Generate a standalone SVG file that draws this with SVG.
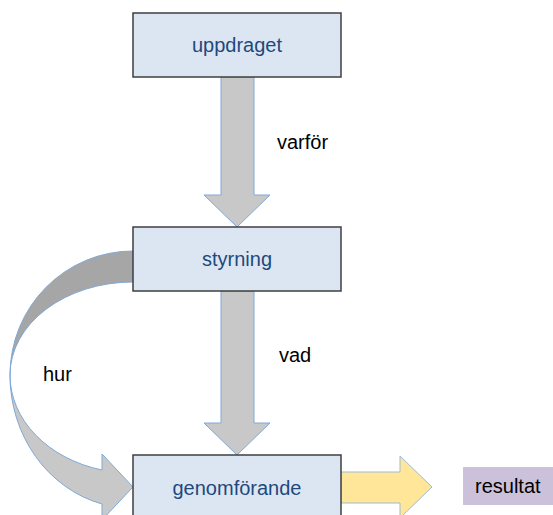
<svg xmlns="http://www.w3.org/2000/svg" width="553" height="515" viewBox="0 0 553 515">
<style>
.box{fill:#dce6f2;stroke:#3f3f3f;stroke-width:1.5}
.lbl{font-family:"Liberation Sans",Arial,sans-serif;font-size:20px;fill:#1f497d;text-anchor:middle}
.txt{font-family:"Liberation Sans",Arial,sans-serif;font-size:20px;fill:#000}
.arr{fill:#c8c8c8;stroke:#7fa9d8;stroke-width:1}
</style>
<rect width="553" height="515" fill="#fff"/>
<g id="connectors">
<path class="arr" d="M221,77 L254,77 L254,195 L270,195 L237,227 L204,195 L221,195 Z"/>
<path class="arr" d="M221,291 L254,291 L254,423 L270,423 L237,455 L204,423 L221,423 Z"/>
<path d="M133,251 A123,124 0 0 0 10,375 A123,93 0 0 1 133,282 Z" fill="#a6a6a6" stroke="#7fa9d8" stroke-width="1"/>
<path class="arr" d="M10,375 A123,133 0 0 0 102,504 L102,520 L133,487 L102,454 L102,470 A123,98 0 0 1 10,375 Z"/>
<path d="M341,472 L400,472 L400,456 L432,487 L400,518 L400,503 L341,503 Z" fill="#ffe699" stroke="#9dbad6" stroke-width="1"/>
</g>
<g id="uppdraget">
<rect class="box" x="133" y="13" width="208" height="64"/>
<text class="lbl" x="237" y="52">uppdraget</text>
</g>
<g id="styrning">
<rect class="box" x="133" y="227" width="208" height="64"/>
<text class="lbl" x="237" y="266">styrning</text>
</g>
<g id="genomforande">
<rect class="box" x="133" y="455" width="208" height="64"/>
<text class="lbl" x="237" y="495">genomförande</text>
</g>
<g id="resultat">
<rect x="463" y="467" width="92" height="38" fill="#ccc1da"/>
<text class="txt" x="475" y="493">resultat</text>
</g>
<g id="labels">
<text class="txt" x="277" y="149">varför</text>
<text class="txt" x="279" y="362">vad</text>
<text class="txt" x="43" y="381">hur</text>
</g>
</svg>
